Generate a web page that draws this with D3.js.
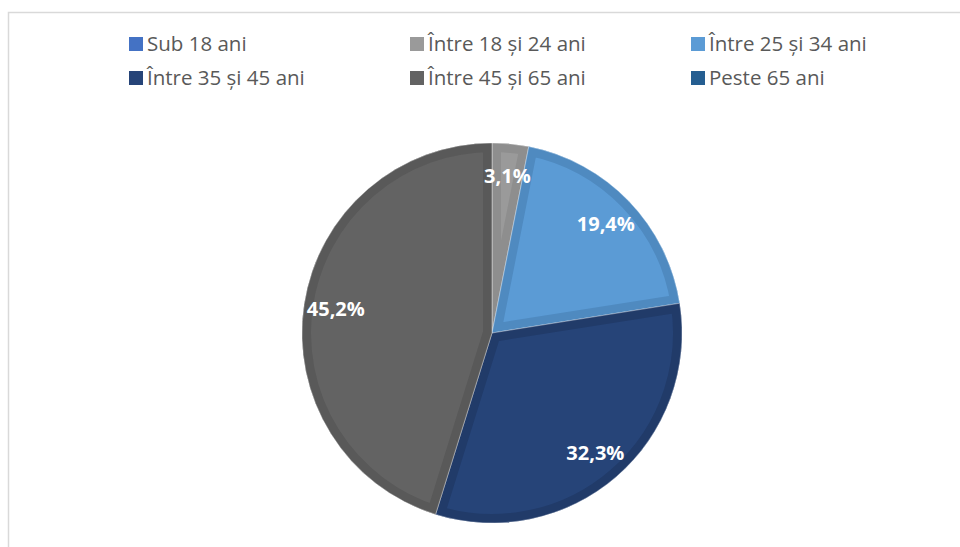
<!DOCTYPE html>
<html>
<head>
<meta charset="utf-8">
<script src="https://cdn.jsdelivr.net/npm/d3@7/dist/d3.min.js"></script>
<style>
  html, body { margin: 0; padding: 0; background: #ffffff; }
  svg { display: block; }
</style>
</head>
<body>
<svg id="chart" width="960" height="547"></svg>
<script>
// Age groups and their shares (percent)
const categories = ["Sub 18 ani", "Între 18 și 24 ani", "Între 25 și 34 ani",
                    "Între 35 și 45 ani", "Între 45 și 65 ani", "Peste 65 ani"];
const values = [0, 3.1, 19.4, 32.3, 45.2, 0];
const fillColors = ["#4472c4", "#9a9a9a", "#5b9bd5", "#264478", "#636363", "#255e91"];
const edgeColors = ["#3e67b0", "#8e8e8e", "#4f8ac0", "#213b69", "#595959", "#215482"];

const svg = d3.select("#chart");

// Chart area frame
svg.append("rect")
  .attr("x", 8.5).attr("y", 12.5)
  .attr("width", 1000).attr("height", 600)
  .attr("fill", "none").attr("stroke", "#d9d9d9").attr("stroke-width", 1.5);

// Legend: three columns, two rows
const legendCols = d3.scaleOrdinal().domain([0, 1, 2]).range([129, 410, 691]);
const legendRows = d3.scaleOrdinal().domain([0, 1]).range([37, 71]);
const legend = svg.append("g");
categories.forEach((name, i) => {
  const g = legend.append("g")
    .attr("transform", `translate(${legendCols(i % 3)},${legendRows(Math.floor(i / 3))})`);
  g.append("rect").attr("width", 14).attr("height", 14).attr("fill", fillColors[i]);
  g.append("text")
    .attr("x", 18).attr("y", 14)
    .attr("font-family", "'Open Sans', sans-serif")
    .attr("font-size", 20.5)
    .attr("fill", "#595959")
    .text(name);
});

// Pie
const cx = 492, cy = 333, R = 190, edge = 9;
const pie = d3.pie().sort(null).value(d => d.value);
const data = pie(categories.map((c, i) => ({ name: c, value: values[i], i })));
const arc = d3.arc().innerRadius(0).outerRadius(R);
const labelArc = d3.arc().innerRadius(158).outerRadius(158);

const defs = svg.append("defs");
const pieG = svg.append("g").attr("transform", `translate(${cx},${cy})`);

data.filter(d => d.value > 0).forEach(d => {
  const id = "clip-" + d.data.i;
  defs.append("clipPath").attr("id", id).append("path").attr("d", arc(d));
  const g = pieG.append("g");
  g.append("path").attr("d", arc(d)).attr("fill", fillColors[d.data.i]);
  // darker inner rim drawn inside each slice
  g.append("path").attr("d", arc(d))
    .attr("clip-path", `url(#${id})`)
    .attr("fill", "none")
    .attr("stroke", edgeColors[d.data.i])
    .attr("stroke-width", edge * 2)
    .attr("stroke-linejoin", "miter");
  // thin separator between slices
  g.append("path").attr("d", arc(d))
    .attr("fill", "none").attr("stroke", "#ffffff")
    .attr("stroke-opacity", 0.5).attr("stroke-width", 0.75);
});

// Value labels
pieG.selectAll("text.val")
  .data(data.filter(d => d.value > 0))
  .join("text")
  .attr("class", "val")
  .attr("transform", d => `translate(${labelArc.centroid(d)})`)
  .attr("text-anchor", "middle")
  .attr("dy", "0.36em")
  .attr("font-family", "'Open Sans', sans-serif")
  .attr("font-weight", "bold")
  .attr("font-size", 20)
  .attr("fill", "#ffffff")
  .text(d => d.value.toFixed(1).replace(".", ",") + "%");
</script>
</body>
</html>
